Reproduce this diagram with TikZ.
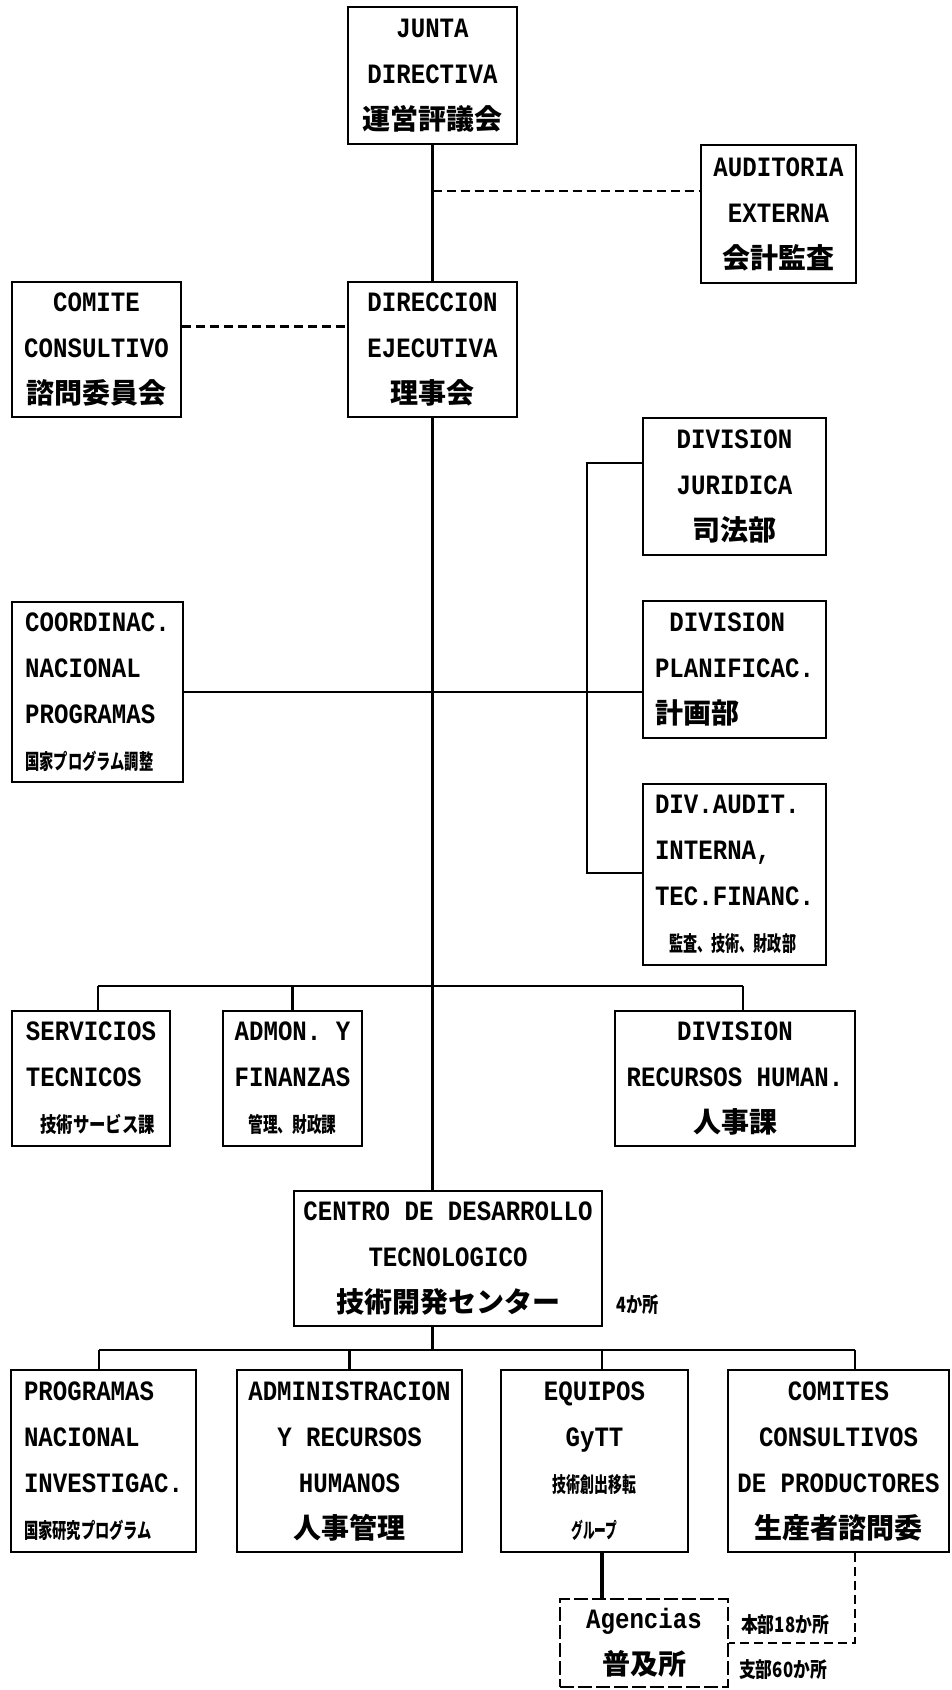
\documentclass[tikz,border=0pt]{standalone}
\usepackage{fontspec}
\usepackage{graphicx}
\newfontfamily\lat{Liberation Mono}[FakeStretch=0.86]
\newfontfamily\jpf{Noto Sans CJK JP}
\newcommand{\jbig}[1]{{\jpf\bfseries\fontsize{28}{46}\selectfont #1}}
\newcommand{\jsq}[2]{\scalebox{#1}[1]{\jpf\bfseries\fontsize{21}{46}\selectfont #2}}
\tikzset{
  box/.style={draw, line width=2.6pt, align=center, inner sep=0pt,
    font=\lat\bfseries\fontsize{28}{46}\selectfont},
  conn/.style={line width=2.6pt},
  thickconn/.style={line width=4pt},
  dsh/.style={line width=2.6pt, dash pattern=on 9pt off 5pt},
  lab/.style={inner sep=0pt}
}
\begin{document}
\begin{tikzpicture}[x=1pt,y=-1pt]
\useasboundingbox[fill=white] (0,0) rectangle (951,1690);
% boxes
\node[box, minimum width=169pt, minimum height=137pt] (junta) at (432.5,75.5) {JUNTA\\DIRECTIVA\\\jbig{運営評議会}};
\node[box, minimum width=155pt, minimum height=138pt] (audit) at (778.5,214) {AUDITORIA\\EXTERNA\\\jbig{会計監査}};
\node[box, minimum width=169pt, minimum height=135pt] (comite) at (96.5,349.5) {COMITE\\CONSULTIVO\\\jbig{諮問委員会}};
\node[box, minimum width=169pt, minimum height=135pt] (direc) at (432.5,349.5) {DIRECCION\\EJECUTIVA\\\jbig{理事会}};
\node[box, minimum width=183pt, minimum height=137pt] (jurid) at (734.5,486.5) {DIVISION\\JURIDICA\\\jbig{司法部}};
\node[box, align=left, minimum width=183pt, minimum height=137pt] (plan) at (734.5,669.5) {\hphantom{X}DIVISION\\PLANIFICAC.\\\jbig{計画部}};
\node[box, align=left, minimum width=171pt, minimum height=180pt] (coord) at (97.5,692) {COORDINAC.\\NACIONAL\\PROGRAMAS\\\jsq{0.68}{国家プログラム調整}};
\node[box, align=left, minimum width=183pt, minimum height=181pt] (divaud) at (734.5,874.5) {DIV.AUDIT.\\INTERNA,\\TEC.FINANC.\\\hphantom{X}\jsq{0.67}{監査、技術、財政部}};
\node[box, align=left, minimum width=158pt, minimum height=135pt] (serv) at (91,1078.5) {SERVICIOS\\TECNICOS\\\hphantom{X}\jsq{0.78}{技術サービス課}};
\node[box, minimum width=139pt, minimum height=135pt] (admon) at (292.5,1078.5) {ADMON.\ Y\\FINANZAS\\\jsq{0.7}{管理、財政課}};
\node[box, minimum width=240pt, minimum height=135pt] (rrhh) at (735,1078.5) {DIVISION\\RECURSOS HUMAN.\\\jbig{人事課}};
\node[box, minimum width=308pt, minimum height=135pt] (centro) at (448,1258.5) {CENTRO DE DESARROLLO\\TECNOLOGICO\\\jbig{技術開発センター}};
\node[box, align=left, minimum width=185pt, minimum height=182pt] (prog) at (103.5,1461) {PROGRAMAS\\NACIONAL\\INVESTIGAC.\\\jsq{0.68}{国家研究プログラム}};
\node[box, minimum width=225pt, minimum height=182pt] (admin) at (349.5,1461) {ADMINISTRACION\\Y RECURSOS\\HUMANOS\\\jbig{人事管理}};
\node[box, minimum width=187pt, minimum height=182pt] (equip) at (594.5,1461) {EQUIPOS\\GyTT\\\jsq{0.66}{技術創出移転}\\\jsq{0.56}{グループ}};
\node[box, minimum width=221pt, minimum height=182pt] (comites) at (838.5,1461) {COMITES\\CONSULTIVOS\\DE PRODUCTORES\\\jbig{生産者諮問委}};
\node[box, dash pattern=on 14pt off 4pt, minimum width=168pt, minimum height=88pt] (agen) at (644,1643) {Agencias\\\jbig{普及所}};
% labels
\node[lab] (l4) at (638,1305) {\jsq{0.77}{4か所}};
\node[lab] (l18) at (785,1625) {\jsq{0.8}{本部18か所}};
\node[lab] (l60) at (783,1670) {\jsq{0.8}{支部60か所}};
% coordinates
\coordinate (ja) at (432.5,191);
\path (comite.north east) ++(0,46) coordinate (cd);
\coordinate (bt) at (587,463);
\coordinate (bb) at (587,873);
\coordinate (b1s) at (98,986);
\coordinate (b1e) at (743,986);
\coordinate (b2s) at (99,1350);
\coordinate (b2e) at (855,1350);
\coordinate (b2q) at (602,1350);
% connectors
\draw[conn] (junta.south) -- (direc.north);
\draw[dsh] (ja) -- (ja -| audit.west);
\draw[dsh] (cd) -- (cd -| direc.west);
\draw[conn] (direc.south) -- (direc.south |- centro.north);
\draw[conn] (jurid.west |- bt) -- (bt) -- (bb) -- (bb -| divaud.west);
\draw[conn] (coord.east) -- (coord.east -| plan.west);
\draw[conn] (b1s) -- (b1e);
\draw[conn] (b1s) -- (b1s |- serv.north);
\draw[conn] (admon.north) -- (admon.north |- b1s);
\draw[conn] (b1e) -- (b1e |- rrhh.north);
\draw[conn] (direc.south |- centro.south) -- (direc.south |- b2s);
\draw[conn] (b2s) -- (b2e);
\draw[conn] (b2s) -- (b2s |- prog.north);
\draw[conn] (admin.north) -- (admin.north |- b2s);
\draw[conn] (b2q) -- (b2q |- equip.north);
\draw[conn] (b2e) -- (b2e |- comites.north);
\draw[thickconn] (b2q |- equip.south) -- (b2q |- agen.north);
\draw[dsh] (b2e |- comites.south) -- (b2e |- agen.east) -- (agen.east);
\end{tikzpicture}
\end{document}
